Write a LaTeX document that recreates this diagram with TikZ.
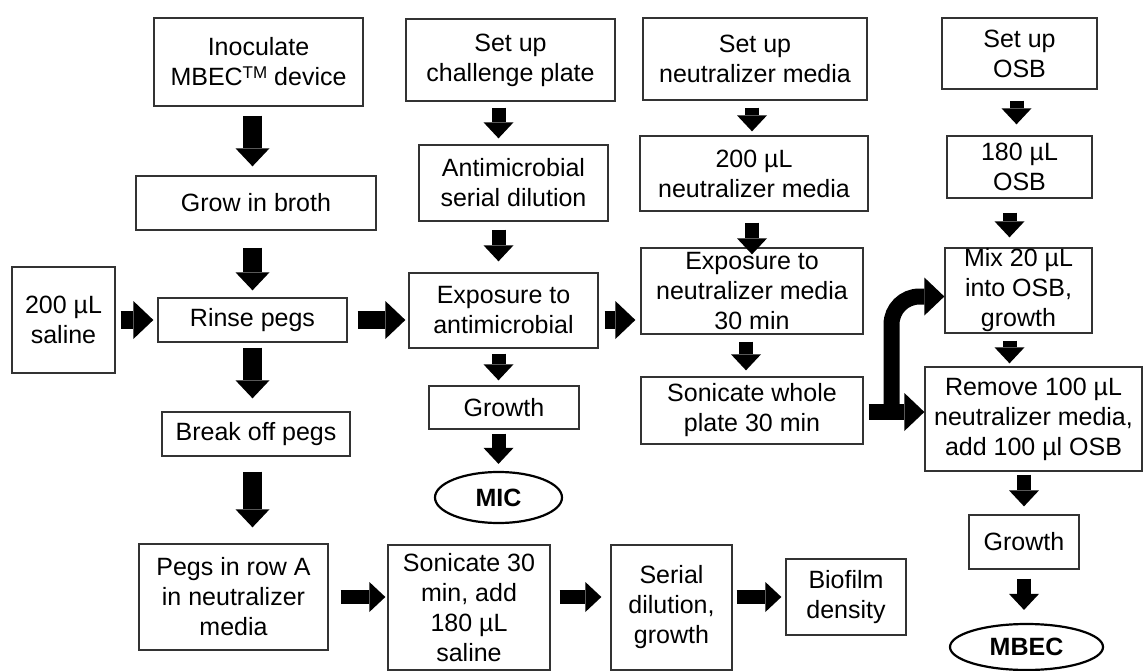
\documentclass[tikz,border=0pt]{standalone}
\usepackage{fontspec}
\setmainfont{Liberation Sans}
\usetikzlibrary{arrows.meta,shapes.geometric}

\begin{document}
\begin{tikzpicture}[x=1pt,y=-1pt,font=\fontsize{25}{30}\selectfont,
    arr/.style={line width=14pt,-{Triangle[width=30pt,length=16pt,line width=0pt]},shorten <=6pt,shorten >=6pt},
    bigarr/.style={line width=19pt,-{Triangle[width=34pt,length=18pt,line width=0pt]},shorten <=9pt,shorten >=9pt},
    sidearr/.style={line width=18pt,-{Triangle[width=38pt,length=20pt,line width=0pt]},shorten <=5pt,shorten >=4pt}]
        \tikzstyle{box}=[draw=black!80, line width=1.3pt, align=center, inner sep=0pt]
        \tikzstyle{result}=[ellipse, draw, line width=2.2pt, inner sep=0pt, font=\fontsize{25}{30}\selectfont\bfseries]

        \useasboundingbox (0,0) rectangle (1143,671);

        % biofilm growth column
        \node[box, minimum width=209pt, minimum height=88pt]  (inoc)    at (258.5,62)   {Inoculate\\MBEC\raisebox{7pt}{\fontsize{17}{17}\selectfont TM} device};
        \node[box, minimum width=240pt, minimum height=54pt]  (grow)    at (256,203)    {Grow in broth};
        \node[box, minimum width=103pt, minimum height=106pt] (saline)  at (63.5,320)   {200 µL\\saline};
        \node[box, minimum width=189pt, minimum height=44pt]  (rinse)   at (252.5,320)  {Rinse pegs};
        \node[box, minimum width=188pt, minimum height=44pt]  (brk)     at (256,434)    {Break off pegs};
        \node[box, minimum width=189pt, minimum height=106pt] (rowA)    at (233.5,597)  {Pegs in row A\\in neutralizer\\media};
        \node[box, minimum width=162pt, minimum height=125pt] (son30)   at (469,607.5)  {Sonicate 30\\min, add\\180 µL\\saline};
        \node[box, minimum width=121pt, minimum height=125pt] (serial)  at (671.5,607.5) {Serial\\dilution,\\growth};
        \node[box, minimum width=120pt, minimum height=76pt]  (biofilm) at (846,597)    {Biofilm\\density};

        % MIC column
        \node[box, minimum width=209pt, minimum height=82pt]  (chal)    at (510.5,60)   {Set up\\challenge plate};
        \node[box, minimum width=189pt, minimum height=76pt]  (antiser) at (513.5,183)  {Antimicrobial\\serial dilution};
        \node[box, minimum width=189pt, minimum height=75pt]  (expanti) at (503.5,310.5) {Exposure to\\antimicrobial};
        \node[box, minimum width=150pt, minimum height=43pt]  (growthA) at (504,407.5)  {Growth};
        \node[result, minimum width=127pt, minimum height=51pt] (mic)   at (498.5,497.5) {MIC};

        % neutralizer column
        \node[box, minimum width=224pt, minimum height=82pt]  (setneut) at (755,59)     {Set up\\neutralizer media};
        \node[box, minimum width=228pt, minimum height=75pt]  (neut200) at (754,173.5)  {200 µL\\neutralizer media};
        \node[box, minimum width=222pt, minimum height=86pt]  (expneut) at (752,291)    {Exposure to\\neutralizer media\\30 min};
        \node[box, minimum width=222pt, minimum height=67pt]  (sonwhole) at (752,410.5) {Sonicate whole\\plate 30 min};

        % MBEC column
        \node[box, minimum width=155pt, minimum height=71pt]  (setosb)  at (1019.5,53.5) {Set up\\OSB};
        \node[box, minimum width=145pt, minimum height=62pt]  (osb180)  at (1019.5,167) {180 µL\\OSB};
        \node[box, minimum width=147pt, minimum height=85pt]  (mix)     at (1018.5,290.5) {Mix 20 µL\\into OSB,\\growth};
        \node[box, minimum width=217pt, minimum height=104pt] (remove)  at (1033.5,419) {Remove 100 µL\\neutralizer media,\\add 100 µl OSB};
        \node[box, minimum width=110pt, minimum height=54pt]  (growthB) at (1024,542)   {Growth};
        \node[result, minimum width=153pt, minimum height=46pt] (mbec)  at (1026.5,647) {MBEC};

        \coordinate (fork) at (891.5,412);

        % arrows, left column
        \draw[bigarr] (inoc.south -| rinse) -- (grow.north -| rinse);
        \draw[bigarr, shorten <=17pt, shorten >=7pt] (grow.south -| rinse) -- (rinse.north);
        \draw[bigarr, shorten <=5pt, shorten >=13pt] (rinse.south) -- (rinse.south |- brk.north);
        \draw[bigarr, shorten <=15pt, shorten >=16pt] (brk.south -| rinse) -- (rowA.north -| rinse);

        % arrows, middle row
        \draw[sidearr] (saline) -- (rinse);
        \draw[sidearr, shorten <=10pt, shorten >=3pt] (rinse.east) -- (rinse.east -| expanti.west);
        \draw[sidearr, shorten <=6pt, shorten >=5pt] ([yshift=-9.5pt]expanti.east) -- ([yshift=-9.5pt]expanti.east -| expneut.west);

        % arrows, MIC column
        \draw[arr] (chal.south -| mic) -- (antiser.north -| mic);
        \draw[arr, shorten <=8pt, shorten >=11pt] (antiser.south -| mic) -- (expanti.north -| mic);
        \draw[arr, shorten <=5pt, shorten >=5pt] (expanti.south -| mic) -- (growthA.north -| mic);
        \draw[arr, shorten <=4pt, shorten >=7pt] (growthA.south -| mic) -- (mic);

        % arrows, neutralizer column
        \draw[arr, shorten <=7pt, shorten >=4pt] (setneut.south -| expneut) -- (neut200.north -| expneut);
        \draw[arr, shorten <=11pt, shorten >=-7pt] (neut200.south -| expneut) -- (expneut.north);
        \draw[arr, shorten <=7pt, shorten >=6pt] ([xshift=-6pt]expneut.south) -- ([xshift=-6pt]sonwhole.north);

        % arrows, MBEC column
        \draw[arr, shorten <=11pt, shorten >=11pt] ([xshift=-3pt]setosb.south) -- ([xshift=-3pt]osb180.north);
        \draw[arr, shorten <=14pt, shorten >=10pt] ([xshift=-10pt]osb180.south) -- ([xshift=-10pt]osb180.south |- mix.north);
        \draw[arr, shorten <=7pt, shorten >=3pt] ([xshift=-9pt]mix.south) -- ([xshift=-9pt]mix.south |- remove.north);
        \draw[arr, shorten <=3pt, shorten >=8pt] (remove.south -| growthB) -- (growthB.north);
        \draw[arr, shorten <=9pt, shorten >=13pt] (growthB.south) -- (growthB.south |- mbec.north);

        % arrows, bottom row
        \draw[arr, shorten <=12pt, shorten >=2pt] (rowA.east) -- (rowA.east -| son30.west);
        \draw[arr, shorten <=9pt, shorten >=9pt] (son30.east |- biofilm) -- (serial.west |- biofilm);
        \draw[arr, shorten <=4pt, shorten >=4pt] (serial.east |- biofilm) -- (biofilm.west);

        % split arrow out of the sonication step
        \draw[sidearr, line width=16pt, shorten >=0pt] (sonwhole.east |- fork) -- (remove.west |- fork);
        \draw[sidearr, line width=16pt, shorten <=0pt, shorten >=0pt, rounded corners=28pt] (fork) |- ([yshift=-6pt]mix.west);
\end{tikzpicture}
\end{document}
